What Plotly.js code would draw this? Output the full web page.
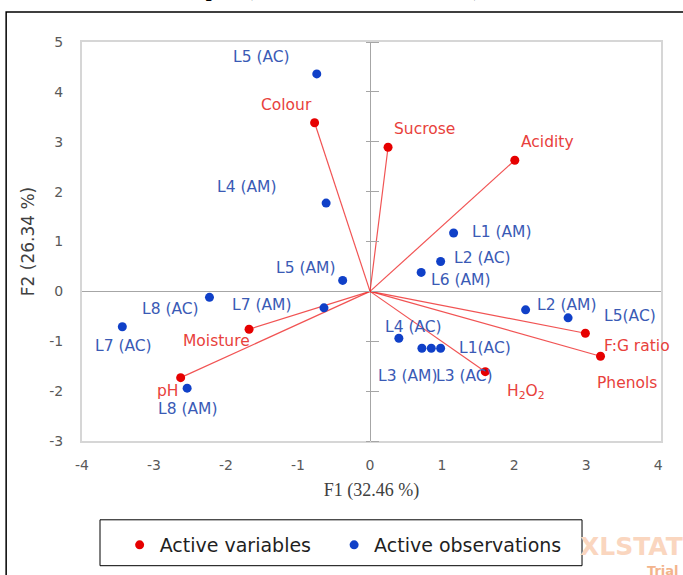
<!DOCTYPE html>
<html>
<head>
<meta charset="utf-8">
<script src="https://cdn.plot.ly/plotly-3.0.1.min.js"></script>
<style>html,body{margin:0;padding:0;background:#fff;}#chart{width:683px;height:575px;}</style>
</head>
<body>
<div id="chart"></div>
<script>
// ---- data ----
const varNames = ['Colour', 'Sucrose', 'Acidity', 'Moisture', 'pH', 'F:G ratio', 'Phenols', 'H<sub>2</sub>O<sub>2</sub>'];
const varF1 = [-0.77, 0.25, 2.01, -1.68, -2.63, 2.99, 3.20, 1.60];
const varF2 = [3.38, 2.89, 2.63, -0.76, -1.73, -0.84, -1.30, -1.61];

const obsNames = ['L5 (AC)', 'L4 (AM)', 'L5 (AM)', 'L8 (AC)', 'L7 (AM)', 'L7 (AC)', 'L8 (AM)', 'L1 (AM)',
                  'L2 (AC)', 'L6 (AM)', 'L2 (AM)', 'L5(AC)', 'L4 (AC)', 'L3 (AM)', 'L3 (AC)', 'L1(AC)'];
const obsF1 = [-0.74, -0.61, -0.38, -2.23, -0.64, -3.44, -2.54, 1.16, 0.98, 0.71, 2.16, 2.75, 0.40, 0.72, 0.85, 0.98];
const obsF2 = [4.36, 1.77, 0.22, -0.12, -0.33, -0.71, -1.94, 1.17, 0.60, 0.38, -0.37, -0.53, -0.94, -1.14, -1.14, -1.14];

const seriesNames = ['Active variables', 'Active observations'];

const xTickVals = [-4, -3, -2, -1, 0, 1, 2, 3, 4];
const xTickText = ['-4', '-3', '-2', '-1', '0', '1', '2', '3', '4'];
const yTickVals = [-3, -2, -1, 0, 1, 2, 3, 4, 5];
const yTickText = ['-3', '-2', '-1', '0', '1', '2', '3', '4', '5'];

// ---- label placement (screen-pixel shifts, styling only) ----
const varLabelShift = [[-28, -18], [36, -18], [33, -18], [-33, 12], [-13, 13], [52, 13], [26, 27], [41, 20]];
const obsLabelShift = [[-55, -17], [-79, -16], [-37, -12], [-39, 12], [-62, -3], [1, 19], [1, 21], [48, -1],
                       [42, -3], [40, 8], [41, -5], [62, -2], [15, -11], [-14, 28], [33, 28], [44, 0]];

const RED = '#e60000', BLUE = '#1040c8';
const RED_TXT = '#e8413c', BLUE_TXT = '#3a5ab5';
const SANS = 'DejaVu Sans, sans-serif';
const SERIF = 'Liberation Serif, serif';

const xRange = [-4, 4.04], yRange = [-3, 5];

const lineX = [], lineY = [];
varF1.forEach((v, i) => { lineX.push(0, v, null); lineY.push(0, varF2[i], null); });

const traces = [
  {x: lineX, y: lineY, mode: 'lines', line: {color: 'rgba(238,40,40,0.8)', width: 1.2},
   showlegend: false, hoverinfo: 'skip'},
  {x: varF1, y: varF2, mode: 'markers', name: seriesNames[0] + '\u00a0\u00a0\u00a0',
   marker: {color: RED, size: 9}},
  {x: obsF1, y: obsF2, mode: 'markers', name: seriesNames[1],
   marker: {color: BLUE, size: 9}},
  {x: [], y: [], yaxis: 'y2', showlegend: false, hoverinfo: 'skip', mode: 'markers'},
  {x: [], y: [], yaxis: 'y3', showlegend: false, hoverinfo: 'skip', mode: 'markers'}
];

const annotations = [];
varNames.forEach((n, i) => annotations.push({
  x: varF1[i], y: varF2[i], text: n, showarrow: false,
  xshift: varLabelShift[i][0], yshift: -varLabelShift[i][1],
  font: {family: SANS, size: 15.5, color: RED_TXT}
}));
obsNames.forEach((n, i) => annotations.push({
  x: obsF1[i], y: obsF2[i], text: n, showarrow: false,
  xshift: obsLabelShift[i][0], yshift: -obsLabelShift[i][1],
  font: {family: SANS, size: 15.5, color: BLUE_TXT}
}));
// cut-off chart title at the very top
annotations.push({xref: 'paper', yref: 'paper', x: 0.435, y: 1.098, xanchor: 'center', yanchor: 'bottom',
  text: '<b>Biplot (axes F1 and F2: 58.80 %)</b>', showarrow: false,
  font: {family: SERIF, size: 21, color: '#000'}});
// watermark
annotations.push({xref: 'paper', yref: 'paper', x: 0.857, y: -0.265, xanchor: 'left', yanchor: 'middle',
  text: '<b>XLSTAT</b>', showarrow: false, font: {family: SANS, size: 25, color: '#fad6bf'}});
annotations.push({xref: 'paper', yref: 'paper', x: 0.972, y: -0.325, xanchor: 'left', yanchor: 'middle',
  text: '<b>Trial</b>', showarrow: false, font: {family: SANS, size: 13, color: '#f3b48c'}});

const layout = {
  width: 683, height: 575,
  margin: {l: 82, r: 22, t: 42, b: 133},
  paper_bgcolor: '#fff', plot_bgcolor: '#fff',
  showlegend: true,
  legend: {orientation: 'h', x: 0.065, xanchor: 'left', y: -0.21, yanchor: 'top',
    font: {family: SANS, size: 19, color: '#1f1f1f'}, bgcolor: 'rgba(0,0,0,0)',
    borderwidth: 0},
  xaxis: {range: xRange, tickvals: xTickVals, ticktext: xTickText, ticks: '',
    showgrid: false, zeroline: true, zerolinecolor: '#a6a6a6', zerolinewidth: 1,
    showline: true, mirror: true, linecolor: '#d6d6d6', linewidth: 2,
    tickfont: {family: SANS, size: 14, color: '#595959'}, ticklabelstandoff: 10,
    title: {text: 'F1 (32.46 %)', font: {family: SERIF, size: 18, color: '#404040'}, standoff: 12},
    fixedrange: true},
  yaxis: {range: yRange, tickvals: yTickVals, ticktext: yTickText, ticks: '',
    showgrid: false, zeroline: true, zerolinecolor: '#a6a6a6', zerolinewidth: 1,
    showline: true, mirror: true, linecolor: '#d6d6d6', linewidth: 2,
    tickfont: {family: SANS, size: 14, color: '#595959'}, ticklabelstandoff: 14,
    title: {text: 'F2 (26.34 %)', font: {family: SANS, size: 17, color: '#404040'}, standoff: 10},
    fixedrange: true},
  yaxis2: {overlaying: 'y', anchor: 'free', position: (0 - xRange[0]) / (xRange[1] - xRange[0]),
    side: 'right', range: yRange, tickvals: yTickVals, ticks: 'outside', ticklen: 8,
    tickcolor: '#a6a6a6', showticklabels: false, showgrid: false, zeroline: false, showline: false},
  yaxis3: {overlaying: 'y', anchor: 'free', position: (0 - xRange[0]) / (xRange[1] - xRange[0]),
    side: 'left', range: yRange, tickvals: yTickVals, ticks: 'outside', ticklen: 4,
    tickcolor: '#a6a6a6', showticklabels: false, showgrid: false, zeroline: false, showline: false},
  shapes: [
    {type: 'rect', xref: 'paper', yref: 'paper', x0: -0.131, x1: 1.10, y0: -0.495, y1: 1.075,
     line: {color: '#000', width: 1.5}, fillcolor: 'rgba(0,0,0,0)', layer: 'below'},
    {type: 'rect', xref: 'paper', yref: 'paper', x0: 0.0311, x1: 0.8636, y0: -0.3125, y1: -0.1975,
     line: {color: '#000', width: 1}, fillcolor: 'rgba(0,0,0,0)'}
  ],
  annotations: annotations
};

Plotly.newPlot('chart', traces, layout, {staticPlot: true, displayModeBar: false});
</script>
</body>
</html>
